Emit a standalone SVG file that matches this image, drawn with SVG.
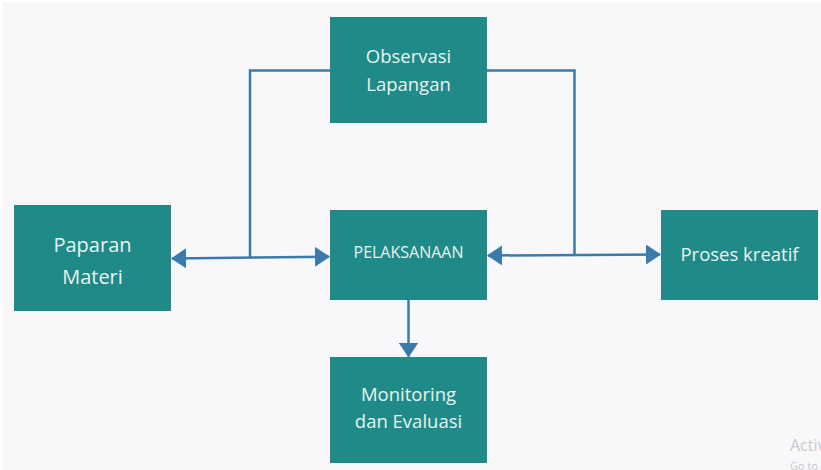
<svg xmlns="http://www.w3.org/2000/svg" width="821" height="470" viewBox="0 0 821 470">
  <style>
    .box { fill: #1f8a87; }
    .lbl { font-family: "Open Sans", "Noto Sans", "Liberation Sans", sans-serif; fill: #e8f4f2; text-anchor: middle; }
    .edge { fill: none; stroke: #3b7bab; stroke-width: 2.5; }
    .wm { font-family: "Segoe UI", "Open Sans", "Liberation Sans", sans-serif; fill: #c9c9cc; }
  </style>
  <defs>
    <marker id="arr" viewBox="0 0 15 20" refX="14" refY="10" markerWidth="15" markerHeight="20" markerUnits="userSpaceOnUse" orient="auto-start-reverse">
      <path d="M0,0 L15,10 L0,20 Z" fill="#3b7bab"/>
    </marker>
  </defs>
  <rect x="0" y="0" width="821" height="470" fill="#ffffff"/>
  <rect x="3" y="2" width="818" height="468" fill="#f8f8fb"/>

  <g id="connectors">
    <polyline class="edge" points="330,70.5 250,70.5 250,257.5"/>
    <line class="edge" x1="172" y1="258.5" x2="329" y2="256.7" marker-start="url(#arr)" marker-end="url(#arr)"/>
    <polyline class="edge" points="487,70.5 574.5,70.5 574.5,255.5"/>
    <line class="edge" x1="488" y1="255.5" x2="660" y2="254.5" marker-start="url(#arr)" marker-end="url(#arr)"/>
    <line class="edge" x1="408.5" y1="300" x2="408.5" y2="356.5" marker-end="url(#arr)"/>
  </g>

  <g id="observasi">
    <rect class="box" x="330" y="17" width="157" height="106"/>
    <text class="lbl" x="408.5" y="62.5" font-size="18.5">Observasi</text>
    <text class="lbl" x="408.5" y="90.5" font-size="18.5">Lapangan</text>
  </g>
  <g id="paparan">
    <rect class="box" x="14" y="205" width="157" height="106"/>
    <text class="lbl" x="92.5" y="251.5" font-size="20">Paparan</text>
    <text class="lbl" x="92.5" y="283.5" font-size="20">Materi</text>
  </g>
  <g id="pelaksanaan">
    <rect class="box" x="330" y="210" width="157" height="90"/>
    <text class="lbl" x="408.5" y="258" font-size="16">PELAKSANAAN</text>
  </g>
  <g id="proses">
    <rect class="box" x="661" y="210" width="157" height="90"/>
    <text class="lbl" x="739.5" y="261" font-size="18.5">Proses kreatif</text>
  </g>
  <g id="monitoring">
    <rect class="box" x="330" y="357" width="157" height="106"/>
    <text class="lbl" x="408.5" y="401" font-size="18.5">Monitoring</text>
    <text class="lbl" x="408.5" y="428" font-size="18.5">dan Evaluasi</text>
  </g>

  <text class="wm" x="790" y="451" font-size="16">Activ</text>
  <text class="wm" x="790" y="470" font-size="11">Go to</text>
</svg>
